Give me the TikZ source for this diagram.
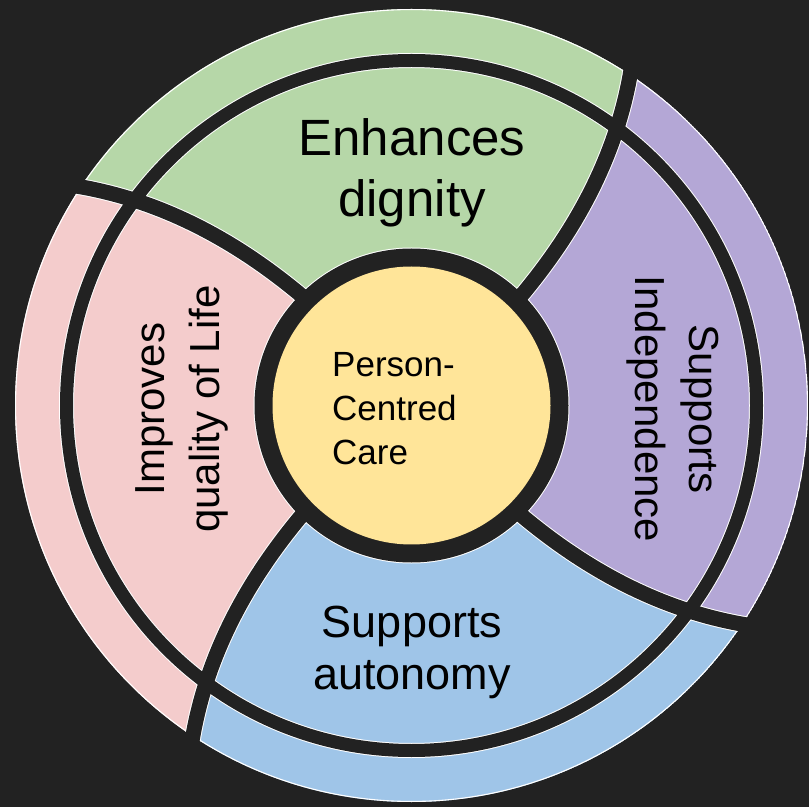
\documentclass[tikz,border=0pt]{standalone}
\usepackage{fontspec}
\setmainfont{Liberation Sans}
\definecolor{bgc}{HTML}{222222}
\definecolor{gr}{HTML}{B6D7A8}
\definecolor{pu}{HTML}{B4A7D6}
\definecolor{bl}{HTML}{9FC5E8}
\definecolor{pk}{HTML}{F4CCCC}
\definecolor{ye}{HTML}{FFE599}
\begin{document}
\begin{tikzpicture}[x=1pt,y=1pt,
  declare function={tx(\q)=max(\q-155,0); tw(\q)=0.033*tx(\q)+0.000055*tx(\q)*tx(\q);},
  lbl/.style={text=black, inner sep=0pt, anchor=base}]
\fill[bgc] (0,0) rectangle (809,807);
\begin{scope}[shift={(411.5,401.5)}]
  \begin{scope}
    \clip (0,0) circle[radius=396.5pt];
    \foreach \a/\c in {-45/pu,45/gr,135/pk,225/bl} {
      \fill[\c] (0,0) -- plot[domain=0:420,samples=45,variable=\r] ({\r*cos(\a+tw(\r))},{\r*sin(\a+tw(\r))})
        arc[start angle={\a+tw(420)}, end angle={\a+90+tw(420)}, radius=420pt]
        -- plot[domain=420:0,samples=45,variable=\r] ({\r*cos(\a+90+tw(\r))},{\r*sin(\a+90+tw(\r))}) -- cycle;
    }
    \draw[white, line width=1.2pt] (0,0) circle[radius=396pt];
    \foreach \a in {-45,45,135,225}
      \draw[white, line width=17pt] plot[domain=140:420,samples=45,variable=\r] ({\r*cos(\a+tw(\r))},{\r*sin(\a+tw(\r))});
    \draw[white, line width=15pt] (0,0) circle[radius=345pt];
    \fill[white] (0,0) circle[radius=158pt];
  \end{scope}
  \foreach \a in {-45,45,135,225}
    \draw[bgc, line width=15pt] plot[domain=140:420,samples=45,variable=\r] ({\r*cos(\a+tw(\r))},{\r*sin(\a+tw(\r))});
  \draw[bgc, line width=13pt] (0,0) circle[radius=345pt];
  \fill[bgc] (0,0) circle[radius=157pt];
  \fill[ye] (0,0) circle[radius=139pt];
\end{scope}
\node[lbl, font=\fontsize{51}{61}\selectfont] (t1) at (412,651) {Enhances};
\node[lbl, font=\fontsize{51}{61}\selectfont] (t2) at (412,590) {dignity};
\node[lbl, font=\fontsize{45}{52}\selectfont] (b1) at (412,170) {Supports};
\node[lbl, font=\fontsize{45}{52}\selectfont] (b2) at (412,118) {autonomy};
\node[lbl, rotate=90, font=\fontsize{42}{50}\selectfont] (l1) at (164,398) {Improves};
\node[lbl, rotate=90, font=\fontsize{42}{50}\selectfont] (l2) at (219,398) {quality of Life};
\node[lbl, rotate=-90, font=\fontsize{42}{50}\selectfont] (r1) at (689,398) {Supports};
\node[lbl, rotate=-90, font=\fontsize{42}{50}\selectfont] (r2) at (635,398) {Independence};
\node[lbl, anchor=base west, font=\fontsize{35}{44}\selectfont] (c1) at (332,430) {Person-};
\node[lbl, anchor=base west, font=\fontsize{35}{44}\selectfont] (c2) at (332,386) {Centred};
\node[lbl, anchor=base west, font=\fontsize{35}{44}\selectfont] (c3) at (332,342) {Care};
\end{tikzpicture}
\end{document}
